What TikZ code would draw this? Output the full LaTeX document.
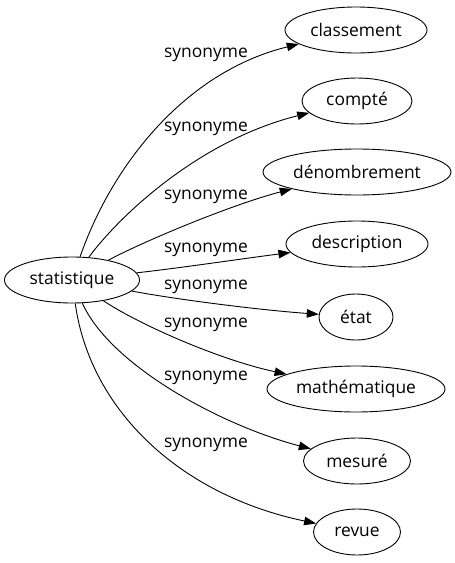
\documentclass[tikz,border=0pt]{standalone}
\usepackage{fontspec}
\setmainfont{Open Sans}
\usetikzlibrary{shapes.geometric,arrows.meta}
\begin{document}
\begin{tikzpicture}[x=1pt,y=-1pt,
  every node/.style={font=\fontsize{17.4}{20}\selectfont, inner sep=0pt},
  term/.style={draw, ellipse, line width=0.9pt, minimum height=46pt},
  lbl/.style={anchor=center},
  edge/.style={draw, line width=0.9pt, -{Triangle[length=12pt,width=8.5pt]}}]
\useasboundingbox (0,0) rectangle (455,563);
\node[term, minimum width=135pt] (stat) at (72,280) {statistique};
\node[term, minimum width=142pt] (cl) at (356,30) {classement};
\node[term, minimum width=110pt] (co) at (357,101) {compté};
\node[term, minimum width=188pt] (de) at (357,172) {dénombrement};
\node[term, minimum width=142pt] (ds) at (357,244) {description};
\node[term, minimum width=74pt] (et) at (356,317) {état};
\node[term, minimum width=178pt] (ma) at (356,389) {mathématique};
\node[term, minimum width=107pt] (me) at (357,461) {mesuré};
\node[term, minimum width=87pt] (re) at (357,532) {revue};
\draw[edge] (stat) .. controls (112,165) and (185,72) .. (cl);
\draw[edge] (stat) .. controls (120,215) and (200,140) .. (co);
\draw[edge] (stat) .. controls (140,243) and (230,205) .. (de);
\draw[edge] (stat) .. controls (180,268) and (240,259) .. (ds);
\draw[edge] (stat) .. controls (180,300) and (260,310) .. (et);
\draw[edge] (stat) .. controls (140,325) and (220,360) .. (ma);
\draw[edge] (stat) .. controls (110,365) and (220,425) .. (me);
\draw[edge] (stat) .. controls (90,410) and (180,495) .. (re);
\node[lbl] (l1) at (206,55) {synonyme};
\node[lbl] (l2) at (206,129) {synonyme};
\node[lbl] (l3) at (206,197) {synonyme};
\node[lbl] (l4) at (206,250) {synonyme};
\node[lbl] (l5) at (206,287) {synonyme};
\node[lbl] (l6) at (206,325) {synonyme};
\node[lbl] (l7) at (206,378) {synonyme};
\node[lbl] (l8) at (206,445) {synonyme};
\end{tikzpicture}
\end{document}
